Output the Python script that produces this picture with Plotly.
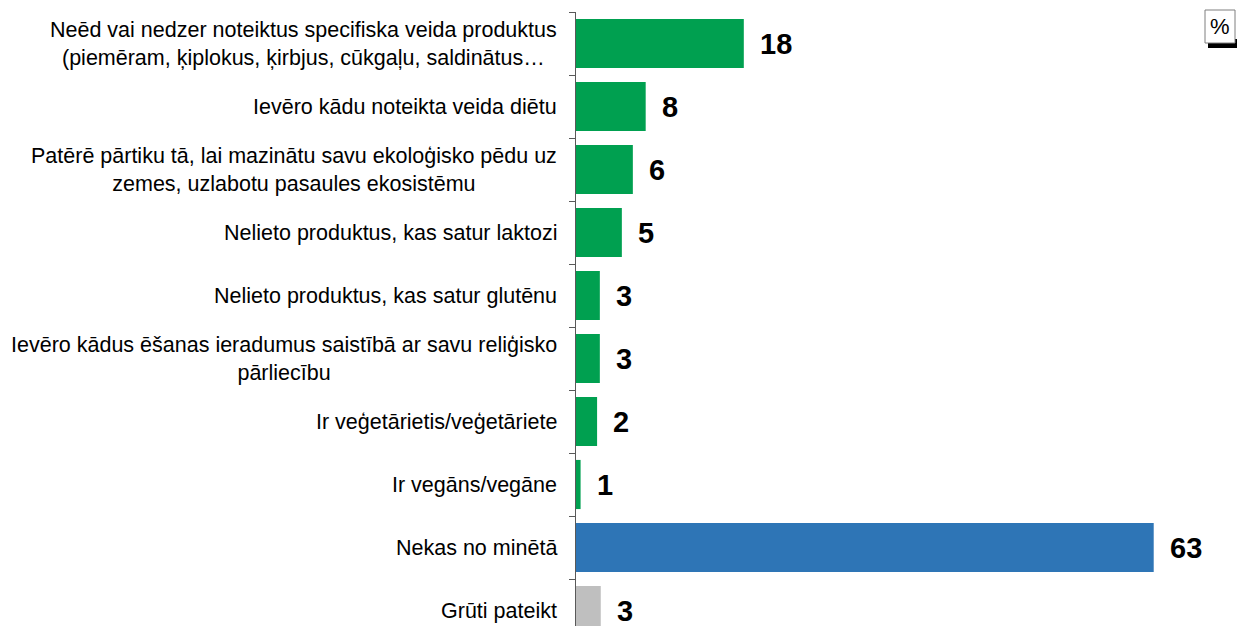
import plotly.graph_objects as go

# ---------------- data ----------------
categories = [
    "Neēd vai nedzer noteiktus specifiska veida produktus<br>(piemēram, ķiplokus, ķirbjus, cūkgaļu, saldinātus…",
    "Ievēro kādu noteikta veida diētu",
    "Patērē pārtiku tā, lai mazinātu savu ekoloģisko pēdu uz<br>zemes, uzlabotu pasaules ekosistēmu",
    "Nelieto produktus, kas satur laktozi",
    "Nelieto produktus, kas satur glutēnu",
    "Ievēro kādus ēšanas ieradumus saistībā ar savu reliģisko<br>pārliecību",
    "Ir veģetārietis/veģetāriete",
    "Ir vegāns/vegāne",
    "Nekas no minētā",
    "Grūti pateikt",
]
values = [18.3, 7.6, 6.2, 5.0, 2.6, 2.6, 2.3, 0.5, 63.0, 2.7]
value_labels = ["18", "8", "6", "5", "3", "3", "2", "1", "63", "3"]
groups = ["diet"] * 8 + ["none", "dk"]

# ---------------- style ----------------
COLORS = {"diet": "#00A050", "none": "#2E75B6", "dk": "#BFBFBF"}
FONT = "Liberation Sans, Arial, sans-serif"
OFF = 8                      # page body margin of the html page
W, H = 1246 - OFF, 634 - 2 * OFF
ML, MR, MT, MB = 576 - OFF, 0, 12 - OFF, 0
PX_PER_UNIT = 9.17
BAND = 63.0

plot_w = W - ML - MR
plot_h = H - MT - MB
x_max = plot_w / PX_PER_UNIT
n_vis = plot_h / BAND


def px_to_paper_x(px):          # px in page coordinates
    return (px - OFF - ML) / plot_w


def px_to_paper_y(py):
    return (H - MB - (py - OFF)) / plot_h


fig = go.Figure(
    go.Bar(
        x=values,
        y=categories,
        orientation="h",
        marker=dict(color=[COLORS[g] for g in groups], line=dict(width=0)),
        hoverinfo="skip",
    )
)

annotations = []
# value labels
for cat, v, lab in zip(categories, values, value_labels):
    annotations.append(dict(
        x=v, y=cat, xref="x", yref="y", text=lab, showarrow=False,
        xanchor="left", yanchor="middle", xshift=14,
        font=dict(family=FONT, size=29, color="#000000", weight="bold"),
    ))

# category labels
for cat in categories:
    annotations.append(dict(
        x=0, y=cat, xref="paper", yref="y", text=cat, showarrow=False,
        xanchor="right", yanchor="middle", align="center", xshift=-17,
        font=dict(family=FONT, size=21.5, color="#000000"),
    ))

# "%" badge
BX0, BX1, BY0, BY1 = 1205, 1235, 10, 43
annotations.append(dict(
    x=px_to_paper_x((BX0 + BX1) / 2), y=px_to_paper_y((BY0 + BY1) / 2), xref="paper", yref="paper",
    text="%", showarrow=False, xanchor="center", yanchor="middle",
    font=dict(family=FONT, size=22, color="#000000"),
))
shapes = [
    dict(type="rect", xref="paper", yref="paper",
         x0=px_to_paper_x(BX0 + 3), x1=px_to_paper_x(BX1 + 2),
         y0=px_to_paper_y(BY1 + 5), y1=px_to_paper_y(BY1 - 4),
         fillcolor="#000000", line=dict(width=0), layer="above"),
    dict(type="rect", xref="paper", yref="paper",
         x0=px_to_paper_x(BX0), x1=px_to_paper_x(BX1),
         y0=px_to_paper_y(BY1), y1=px_to_paper_y(BY0),
         fillcolor="#FFFFFF", line=dict(color="#7F7F7F", width=1), layer="above"),
]

fig.update_layout(
    width=W, height=H,
    margin=dict(l=ML, r=MR, t=MT, b=MB, pad=0),
    paper_bgcolor="#FFFFFF", plot_bgcolor="#FFFFFF",
    showlegend=False,
    bargap=0.22,
    annotations=annotations,
    shapes=shapes,
    xaxis=dict(range=[0, x_max], visible=False, fixedrange=True),
    yaxis=dict(
        type="category",
        categoryorder="array", categoryarray=categories,
        range=[-0.5 + n_vis, -0.5],
        showticklabels=False,
        showline=True, linecolor="#595959", linewidth=1,
        ticks="outside", ticklen=6, tickcolor="#595959", tickwidth=1,
        tickson="boundaries",
        showgrid=False, zeroline=False,
    ),
)

fig.write_html("out.html")
